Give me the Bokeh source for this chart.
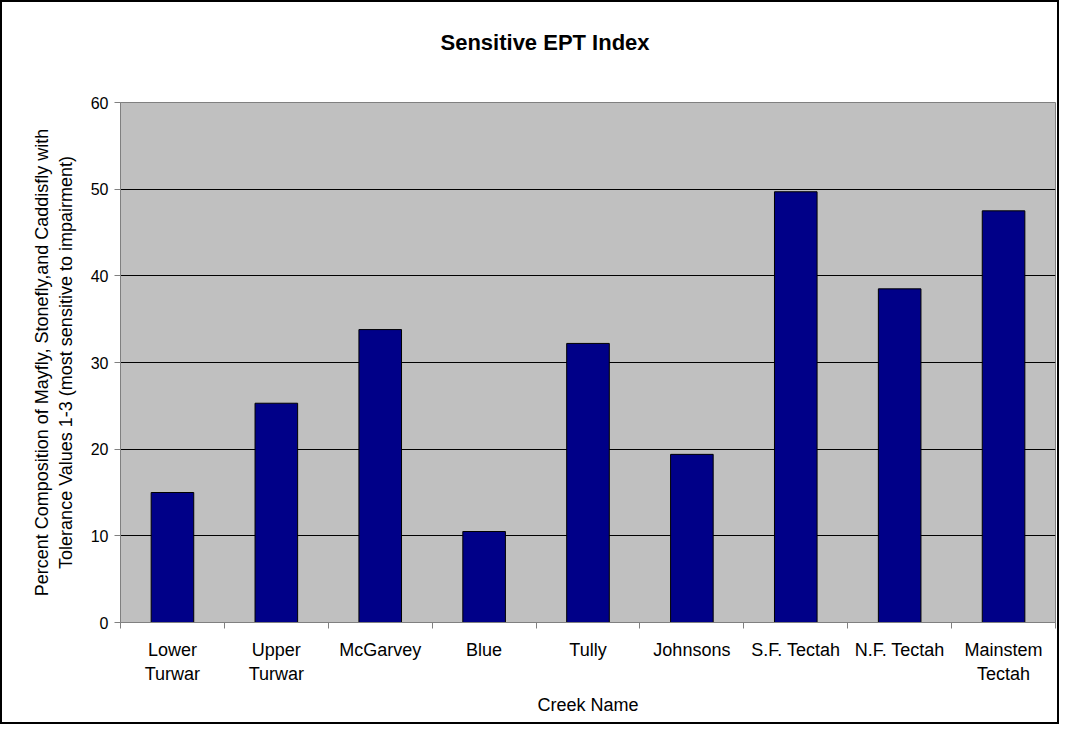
from bokeh.plotting import figure
from bokeh.models import FixedTicker, Range1d, ColumnDataSource, Title
from bokeh.embed import file_html
from bokeh.resources import INLINE

# ---- data ----
creeks = ["Lower\nTurwar", "Upper\nTurwar", "McGarvey", "Blue", "Tully",
          "Johnsons", "S.F. Tectah", "N.F. Tectah", "Mainstem\nTectah"]
ept_values = [15.0, 25.3, 33.8, 10.5, 32.2, 19.4, 49.7, 38.5, 47.5]
y_ticks = [0, 10, 20, 30, 40, 50, 60]

title_text = "Sensitive EPT Index"
x_title = "Creek Name"
y_title = ("Percent Composition of Mayfly, Stonefly,and Caddisfly with\n"
           "Tolerance Values 1-3 (most sensitive to impairment)")

FONT = "Liberation Sans"

centers = [i + 0.5 for i in range(len(creeks))]
bounds = list(range(len(creeks) + 1))
src = ColumnDataSource(dict(x=centers, top=ept_values, name=creeks))

p = figure(width=1059, height=724, output_backend="svg", toolbar_location=None,
           x_range=Range1d(0, len(creeks)), y_range=Range1d(y_ticks[0], y_ticks[-1]),
           min_border_left=118, min_border_right=6, min_border_top=100, min_border_bottom=104,
           background_fill_color="#C0C0C0", border_fill_color="white",
           outline_line_color="#808080", outline_line_width=1)
p.styles = {"border": "2px solid black"}

p.vbar(x="x", top="top", bottom=0, width=0.41, source=src,
       fill_color="#000088", line_color="black", line_width=1)

# title
p.title = Title(text=title_text, align="left", offset=320, standoff=0,
                padding=dict(left=0, right=0, top=0, bottom=48),
                text_font=FONT, text_font_size="22px", text_font_style="bold",
                text_color="black")

# x axis
xa = p.xaxis[0]
xa.ticker = FixedTicker(ticks=centers, minor_ticks=bounds)
xa.major_label_overrides = {c: n for c, n in zip(centers, creeks)}
xa.major_tick_line_color = None
xa.minor_tick_line_color = "#808080"
xa.minor_tick_in = 0
xa.minor_tick_out = 6
xa.axis_line_color = "#808080"
xa.major_label_text_font = FONT
xa.major_label_text_font_size = "18px"
xa.major_label_text_color = "black"
xa.major_label_standoff = 11
xa.axis_label = x_title
xa.axis_label_text_font = FONT
xa.axis_label_text_font_size = "18px"
xa.axis_label_text_font_style = "normal"
xa.axis_label_text_color = "black"
xa.axis_label_standoff = 8

# y axis
ya = p.yaxis[0]
ya.ticker = FixedTicker(ticks=y_ticks)
ya.major_tick_line_color = "#808080"
ya.major_tick_in = 0
ya.major_tick_out = 6
ya.minor_tick_line_color = None
ya.axis_line_color = "#808080"
ya.major_label_text_font = FONT
ya.major_label_text_font_size = "16px"
ya.major_label_text_color = "black"
ya.major_label_standoff = 6
ya.axis_label = y_title
ya.axis_label_text_font = FONT
ya.axis_label_text_font_size = "18px"
ya.axis_label_text_font_style = "normal"
ya.axis_label_text_color = "black"
ya.axis_label_standoff = 12

# grid
p.xgrid.grid_line_color = None
p.ygrid.ticker = FixedTicker(ticks=y_ticks)
p.ygrid.grid_line_color = "black"
p.ygrid.grid_line_width = 1

open("out.html", "w").write(file_html(p, INLINE))
